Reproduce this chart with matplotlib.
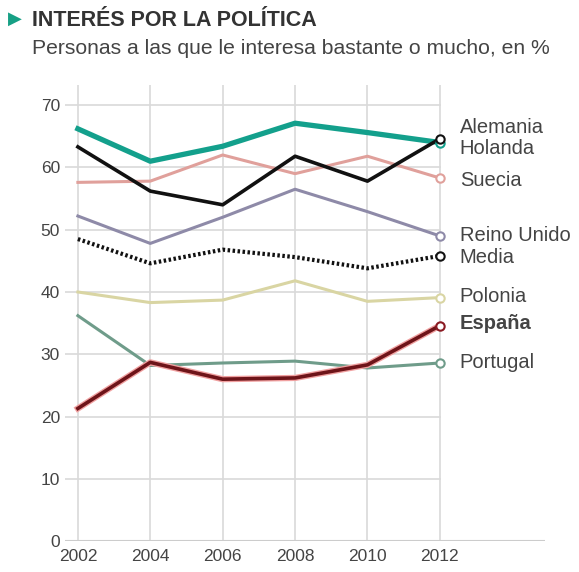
import matplotlib.pyplot as plt

years = [2002, 2004, 2006, 2008, 2010, 2012]
alemania = [66.2, 61.0, 63.4, 67.1, 65.6, 64.0]
holanda = [63.3, 56.2, 54.0, 61.8, 57.8, 64.6]
suecia = [57.6, 57.8, 62.0, 59.0, 61.8, 58.3]
reino_unido = [52.2, 47.8, 52.0, 56.5, 52.9, 49.0]
media = [48.5, 44.6, 46.8, 45.6, 43.8, 45.8]
polonia = [40.0, 38.3, 38.7, 41.8, 38.5, 39.1]
espana = [21.3, 28.7, 26.0, 26.2, 28.3, 34.6]
portugal = [36.2, 28.2, 28.6, 28.9, 27.8, 28.6]

names = ["Alemania", "Holanda", "Suecia", "Reino Unido", "Media", "Polonia", "España", "Portugal"]
label_y = [66.4, 63.1, 57.9, 49.0, 45.6, 39.3, 35.0, 28.7]

plt.rcParams["font.family"] = ["Liberation Sans", "DejaVu Sans"]

fig = plt.figure(figsize=(5.79, 5.72), dpi=100)
ax = fig.add_axes([0.112, 0.054, 0.829, 0.797])
ax.set_xlim(2001.64, 2014.9)
ax.set_ylim(0, 73.2)

grid = "#d9d9d9"
for v in range(10, 80, 10):
    ax.plot([2001.64, 2012], [v, v], color=grid, lw=1.2, zorder=0)
for yr in years:
    ax.axvline(yr, color=grid, lw=1.2, zorder=0, ymax=1.0)
ax.plot([2001.64, 2014.9], [0, 0], color="#cccccc", lw=1.5, zorder=0)

series = [
    (portugal, "#6f9c8a", 2.2, "-"),
    (polonia, "#d9d5a3", 2.2, "-"),
    (reino_unido, "#8e8aa8", 2.2, "-"),
    (suecia, "#e0a09b", 2.2, "-"),
    (alemania, "#13a08c", 3.8, "-"),
    (media, "#111111", 3.0, (0, (0.6, 0.6))),
    (holanda, "#111111", 2.6, "-"),
]
for vals, c, lw, ls in series:
    ax.plot(years, vals, color=c, lw=lw, ls=ls, zorder=2)
    ax.plot(years[-1], vals[-1], "o", ms=6, mfc="white", mec=c, mew=1.5, zorder=4)

# España with a pinkish halo
ax.plot(years, espana, color="#f0a0a0", lw=4.5, zorder=2.5)
ax.plot(years, espana, color="#6e1419", lw=2.6, zorder=3)
ax.plot(years[-1], espana[-1], "o", ms=6, mfc="white", mec="#8a1a22", mew=1.5, zorder=4)

for n, yv in zip(names, label_y):
    ax.text(2012.55, yv, n, fontsize=14.5, color="#444444", va="center", ha="left",
            fontweight="bold" if n == "España" else "normal")

for s in ax.spines.values():
    s.set_visible(False)
ax.set_yticks(range(0, 80, 10))
ax.set_xticks(years)
ax.tick_params(length=0, labelsize=12.5, labelcolor="#444444")
ax.tick_params(axis="x", pad=6)

fig.text(0.055, 0.964, "INTERÉS POR LA POLÍTICA", fontsize=15.5, fontweight="bold",
         color="#333333", va="center")
fig.text(0.014, 0.966, "▶", fontsize=13, color="#17a085", va="center")
fig.text(0.055, 0.916, "Personas a las que le interesa bastante o mucho, en %",
         fontsize=15.2, color="#444444", va="center")

fig.savefig("out.png", dpi=100)
